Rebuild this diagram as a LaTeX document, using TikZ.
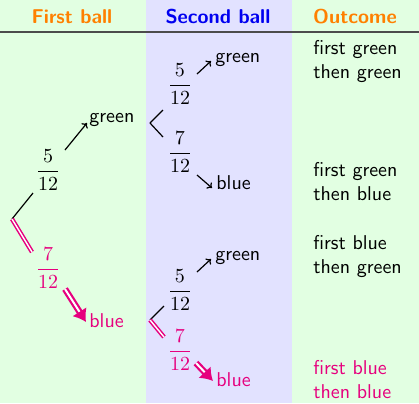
\documentclass[tikz,border=0pt]{standalone}
\usetikzlibrary{arrows.meta}
\definecolor{bgg}{RGB}{226,255,226}
\definecolor{bgb}{RGB}{226,226,255}
\definecolor{hdorange}{RGB}{255,128,0}
\definecolor{hdblue}{RGB}{0,0,240}
\definecolor{pinkc}{RGB}{230,0,126}
\newcommand{\myfrac}[2]{$\displaystyle\frac{#1}{#2}$}
\begin{document}
\begin{tikzpicture}[x=0.5pt,y=-0.5pt,font=\sffamily,
  hdr/.style={font=\sffamily\bfseries,inner sep=0pt},
  frac/.style={inner sep=0pt},
  lbl/.style={inner sep=0pt},
  outc/.style={anchor=west,align=left,inner sep=0pt},
  branch/.style={semithick},
  pinkbranch/.style={draw=pinkc,double=white,line width=0.75pt,double distance=0.7pt},
  arr/.style={semithick,-{To[length=2.2pt,width=4pt]}},
  pinkarr/.style={draw=pinkc,double=white,line width=1.1pt,double distance=1pt,-{Latex[length=6pt,width=8.5pt]}}]
\useasboundingbox (0,0) rectangle (419,403);
\fill[bgg] (0,0) rectangle (419,403);
\fill[bgb] (146,0) rectangle (292,403);
\draw[line width=1pt,black!70] (0,32) -- (419,32);
% headers
\node[hdr,text=hdorange] (h1) at (72,17) {First ball};
\node[hdr,text=hdblue] (h2) at (218,17) {Second ball};
\node[hdr,text=hdorange] (h3) at (355,17) {Outcome};
% first ball
\coordinate (r1) at (12,219);
\coordinate (r1a) at (33,193);
\coordinate (r1b) at (32,252);
\node[frac] (f1) at (48,170) {\myfrac{5}{12}};
\node[frac,text=pinkc] (f2) at (48,268) {\myfrac{7}{12}};
\coordinate (a1s) at (65,150);
\coordinate (a1e) at (87,123);
\node[lbl,anchor=west] (g1) at (89,120) {green};
\coordinate (b1s) at (65,289);
\coordinate (b1e) at (86,322);
\node[lbl,anchor=west,text=pinkc] (bl1) at (89,321) {blue};
\draw[branch] (r1) -- (r1a);
\draw[pinkbranch] (r1) -- (r1b);
\draw[arr] (a1s) -- (a1e);
\draw[pinkarr] (b1s) -- (b1e);
% second ball, top
\coordinate (r2) at (150,123);
\coordinate (r2a) at (163,110);
\coordinate (r2b) at (163,137);
\node[frac] (f3) at (180,84) {\myfrac{5}{12}};
\node[frac] (f4) at (180,152) {\myfrac{7}{12}};
\coordinate (a2s) at (197,74);
\coordinate (a2e) at (211,61);
\node[lbl,anchor=west] (g2) at (215,60) {green};
\coordinate (a3s) at (197,175);
\coordinate (a3e) at (212,188);
\node[lbl,anchor=west] (bl2) at (216,183) {blue};
\draw[branch] (r2) -- (r2a);
\draw[branch] (r2) -- (r2b);
\draw[arr] (a2s) -- (a2e);
\draw[arr] (a3s) -- (a3e);
% second ball, bottom
\coordinate (r3) at (150,320);
\coordinate (r3a) at (164,306);
\coordinate (r3b) at (164,337);
\node[frac] (f5) at (180,290) {\myfrac{5}{12}};
\node[frac,text=pinkc] (f6) at (180,350) {\myfrac{7}{12}};
\coordinate (a4s) at (197,272);
\coordinate (a4e) at (211,259);
\node[lbl,anchor=west] (g3) at (215,258) {green};
\coordinate (b2s) at (196,363);
\coordinate (b2e) at (213,381);
\node[lbl,anchor=west,text=pinkc] (bl3) at (216,380) {blue};
\draw[branch] (r3) -- (r3a);
\draw[pinkbranch] (r3) -- (r3b);
\draw[arr] (a4s) -- (a4e);
\draw[pinkarr] (b2s) -- (b2e);
% outcomes
\node[outc] (o1) at (313,62) {first green\\then green};
\node[outc] (o2) at (313,182) {first green\\then blue};
\node[outc] (o3) at (313,257) {first blue\\then green};
\node[outc,text=pinkc] (o4) at (313,380) {first blue\\then blue};
\end{tikzpicture}
\end{document}
